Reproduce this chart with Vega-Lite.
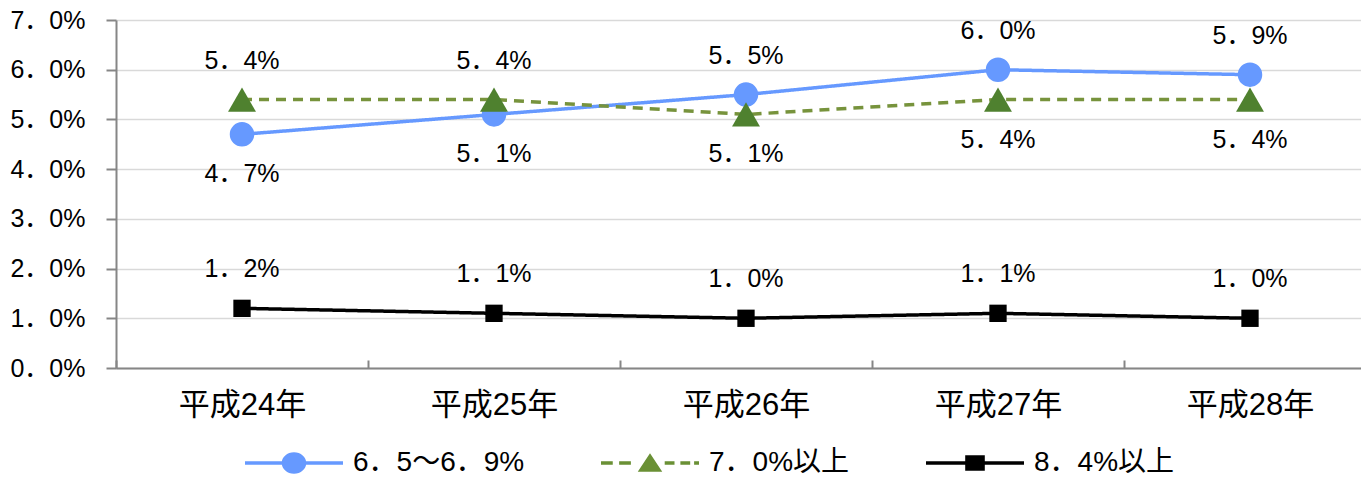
{
  "$schema": "https://vega.github.io/schema/vega-lite/v6.json",
  "width": 1245,
  "height": 348,
  "autosize": "none",
  "padding": {"left": 116, "top": 20, "right": 0, "bottom": 109},
  "background": "white",
  "config": {
    "view": {"stroke": null},
    "font": "'Liberation Sans', 'Noto Sans CJK JP'"
  },
  "data": {
    "values": [
      {"year": "平成24年", "series": "6．5～6．9%", "value": 4.7},
      {"year": "平成25年", "series": "6．5～6．9%", "value": 5.1},
      {"year": "平成26年", "series": "6．5～6．9%", "value": 5.5},
      {"year": "平成27年", "series": "6．5～6．9%", "value": 6.0},
      {"year": "平成28年", "series": "6．5～6．9%", "value": 5.9},
      {"year": "平成24年", "series": "7．0%以上", "value": 5.4},
      {"year": "平成25年", "series": "7．0%以上", "value": 5.4},
      {"year": "平成26年", "series": "7．0%以上", "value": 5.1},
      {"year": "平成27年", "series": "7．0%以上", "value": 5.4},
      {"year": "平成28年", "series": "7．0%以上", "value": 5.4},
      {"year": "平成24年", "series": "8．4%以上", "value": 1.2},
      {"year": "平成25年", "series": "8．4%以上", "value": 1.1},
      {"year": "平成26年", "series": "8．4%以上", "value": 1.0},
      {"year": "平成27年", "series": "8．4%以上", "value": 1.1},
      {"year": "平成28年", "series": "8．4%以上", "value": 1.0}
    ]
  },
  "transform": [
    {"calculate": "replace(format(datum.value, '.1f'), '.', '．') + '%'", "as": "label"}
  ],
  "encoding": {
    "x": {
      "field": "year",
      "type": "nominal",
      "sort": ["平成24年", "平成25年", "平成26年", "平成27年", "平成28年"],
      "scale": {"type": "band", "range": [0, 1260], "paddingInner": 0, "paddingOuter": 0},
      "axis": {
        "title": null,
        "labelAngle": 0,
        "tickBand": "extent",
        "grid": false,
        "tickSize": -8,
        "tickColor": "#868686",
        "tickWidth": 2,
        "domainColor": "#868686",
        "domainWidth": 2,
        "labelFontSize": 31,
        "labelColor": "black",
        "labelPadding": 30,
        "labelFont": "'Liberation Sans', 'Noto Sans CJK JP'"
      }
    },
    "y": {
      "field": "value",
      "type": "quantitative",
      "scale": {"domain": [0, 7]},
      "axis": {
        "title": null,
        "values": [0, 1, 2, 3, 4, 5, 6, 7],
        "labelExpr": "replace(format(datum.value, '.1f'), '.', '．') + '%'",
        "tickSize": 10,
        "tickColor": "#868686",
        "tickWidth": 2,
        "domainColor": "#868686",
        "domainWidth": 2,
        "gridColor": "#d9d9d9",
        "gridWidth": 1.5,
        "labelFontSize": 25,
        "labelColor": "black",
        "labelPadding": 21,
        "labelFont": "'Liberation Sans', 'Noto Sans CJK JP'"
      }
    }
  },
  "layer": [
    {
      "mark": {"type": "line", "strokeWidth": 3.5},
      "encoding": {
        "color": {
          "field": "series", "type": "nominal",
          "scale": {"domain": ["6．5～6．9%", "7．0%以上", "8．4%以上"], "range": ["#6699FF", "#77933C", "#000000"]},
          "legend": null
        },
        "strokeDash": {
          "field": "series", "type": "nominal",
          "scale": {"domain": ["6．5～6．9%", "7．0%以上", "8．4%以上"], "range": [[1, 0], [10, 7], [1, 0]]},
          "legend": null
        }
      }
    },
    {
      "mark": {"type": "point", "filled": true, "opacity": 1},
      "encoding": {
        "color": {
          "field": "series", "type": "nominal",
          "scale": {"domain": ["6．5～6．9%", "7．0%以上", "8．4%以上"], "range": ["#6699FF", "#4F812F", "#000000"]},
          "legend": null
        },
        "shape": {
          "field": "series", "type": "nominal",
          "scale": {"domain": ["6．5～6．9%", "7．0%以上", "8．4%以上"], "range": ["circle", "triangle-up", "square"]},
          "legend": null
        },
        "size": {
          "field": "series", "type": "nominal",
          "scale": {"type": "ordinal", "domain": ["6．5～6．9%", "7．0%以上", "8．4%以上"], "range": [600, 780, 300]},
          "legend": null
        }
      }
    },
    {
      "transform": [
        {"filter": "datum.series == '8．4%以上' || ((datum.series == '7．0%以上') == (datum.year == '平成24年' || datum.year == '平成25年'))"}
      ],
      "mark": {"type": "text", "dy": -39, "fontSize": 25, "color": "black", "baseline": "middle", "font": "'Liberation Sans', 'Noto Sans CJK JP'"},
      "encoding": {"text": {"field": "label", "type": "nominal"}}
    },
    {
      "transform": [
        {"filter": "!(datum.series == '8．4%以上' || ((datum.series == '7．0%以上') == (datum.year == '平成24年' || datum.year == '平成25年')))"}
      ],
      "mark": {"type": "text", "dy": 40, "fontSize": 25, "color": "black", "baseline": "middle", "font": "'Liberation Sans', 'Noto Sans CJK JP'"},
      "encoding": {"text": {"field": "label", "type": "nominal"}}
    },
    {
      "mark": {"type": "point", "filled": true, "opacity": 0},
      "encoding": {
        "color": {
          "field": "series", "type": "nominal",
          "scale": {"domain": ["6．5～6．9%", "7．0%以上", "8．4%以上"], "range": ["#6699FF", "#6A9035", "#000000"]},
          "legend": {
            "title": null, "orient": "none", "legendX": 129, "legendY": 394, "direction": "horizontal",
            "symbolSize": 9604, "symbolOpacity": 1, "symbolStrokeWidth": 0,
            "labelFontSize": 28, "labelColor": "black", "labelFont": "'Liberation Sans', 'Noto Sans CJK JP'", "labelOffset": 10, "labelLimit": 400,
            "columnPadding": 76, "padding": 0
          }
        },
        "shape": {
          "field": "series", "type": "nominal",
          "scale": {
            "domain": ["6．5～6．9%", "7．0%以上", "8．4%以上"],
            "range": [
              "M-1,-0.035L1,-0.035L1,0.035L-1,0.035Z M-0.25,0A0.25,0.22 0 1,1 0.25,0A0.25,0.22 0 1,1 -0.25,0Z",
              "M-1,-0.035L-0.76,-0.035L-0.76,0.035L-1,0.035Z M-0.63,-0.035L-0.39,-0.035L-0.39,0.035L-0.63,0.035Z M0,-0.2L0.25,0.18L-0.25,0.18Z M0.3,-0.035L0.5,-0.035L0.5,0.035L0.3,0.035Z M0.62,-0.035L0.82,-0.035L0.82,0.035L0.62,0.035Z M0.9,-0.035L1,-0.035L1,0.035L0.9,0.035Z",
              "M-1,-0.035L1,-0.035L1,0.035L-1,0.035Z M-0.2,-0.16L0.2,-0.16L0.2,0.16L-0.2,0.16Z"
            ]
          },
          "legend": {
            "title": null, "orient": "none", "legendX": 129, "legendY": 394, "direction": "horizontal",
            "symbolSize": 9604, "symbolOpacity": 1, "symbolStrokeWidth": 0,
            "labelFontSize": 28, "labelColor": "black", "labelFont": "'Liberation Sans', 'Noto Sans CJK JP'", "labelOffset": 10, "labelLimit": 400,
            "columnPadding": 76, "padding": 0
          }
        }
      }
    }
  ],
  "resolve": {"scale": {"color": "independent", "shape": "independent", "size": "independent"}}
}
